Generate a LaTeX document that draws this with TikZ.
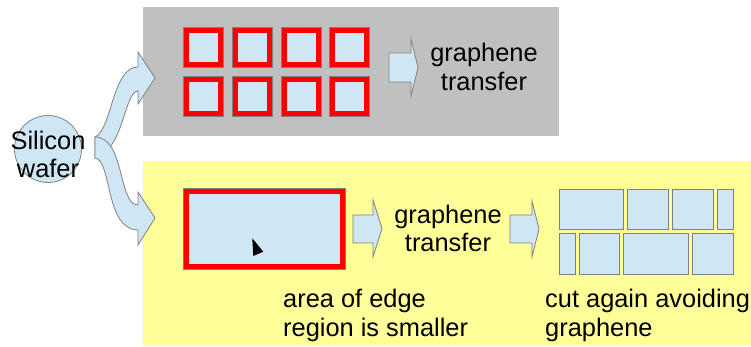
\documentclass[tikz,border=0pt]{standalone}
\usepackage{fontspec}
\setmainfont{Liberation Sans}
\definecolor{lblue}{RGB}{207,231,245}
\definecolor{edgegray}{RGB}{128,128,128}
\definecolor{boxgray}{RGB}{192,192,192}
\definecolor{boxyellow}{RGB}{255,255,153}
\begin{document}
\begin{tikzpicture}[x=1pt,y=-1pt,
  txt/.style={inner sep=0pt, font=\fontsize{25.4}{28.5}\selectfont},
  piece/.style={draw=edgegray, line width=0.9pt, fill=lblue, inner sep=0pt, anchor=north west},
  redsq/.style={piece, path picture={\draw[red,line width=4.8pt]
      ([shift={(3pt,3pt)}]path picture bounding box.south west) rectangle
      ([shift={(-3pt,-3pt)}]path picture bounding box.north east);}},
  blockarrow/.style={draw=edgegray, line width=0.8pt, fill=lblue, line join=miter}
]
\useasboundingbox (0,0) rectangle (751,347);
% background panels
\fill[boxgray] (143,7) rectangle (559,136);
\fill[boxyellow] (143,161) rectangle (751,346);

% silicon wafer
\node[draw=edgegray, line width=0.8pt, fill=lblue, circle, minimum size=67pt, inner sep=0pt] (wafer) at (48,149) {};
\node[txt, anchor=base] (silicon) at (48,150) {Silicon};
\node[txt, anchor=base] (waferlbl) at (48,178) {wafer};

% curved arrows
\draw[blockarrow] (95,158) .. controls (124,150) and (124,92) .. (138,91) -- (138,104) -- (155,78) -- (138,52) -- (138,67) .. controls (112,67) and (112,130) .. (95,137) -- cycle;
\draw[blockarrow] (95,137) .. controls (125,137) and (118,205) .. (138,205) -- (138,192) -- (155,218) -- (138,245) -- (138,230) .. controls (105,230) and (112,160) .. (95,158) -- cycle;

% top row squares
\foreach \i/\x in {1/183,2/232,3/281,4/329}{
  \node[redsq, minimum size=40pt] (ta\i) at (\x,27) {};
  \node[redsq, minimum size=40pt] (tb\i) at (\x,76) {};
}
% top arrow
\draw[blockarrow] (389,53) -- (411,53) -- (411,39) -- (418,67.5) -- (411,96) -- (411,82) -- (389,82) -- cycle;
\node[txt, anchor=base] (gt1) at (484,62) {graphene};
\node[txt, anchor=base] (gt2) at (484,90.5) {transfer};

% bottom big rectangle
\node[redsq, minimum width=162pt, minimum height=81pt] (big) at (183,188) {};
\fill[black] (252.3,238.3) -- (263.3,251.7) -- (253.3,256) -- cycle;

% bottom arrows
\draw[blockarrow] (353,215) -- (373,215) -- (373,200) -- (382,228.5) -- (373,257) -- (373,243) -- (353,243) -- cycle;
\node[txt, anchor=base] (gb1) at (448,223) {graphene};
\node[txt, anchor=base] (gb2) at (448,251.5) {transfer};
\draw[blockarrow] (510,215) -- (532,215) -- (532,201) -- (539,229) -- (532,257) -- (532,243) -- (510,243) -- cycle;

% cut pieces
\node[piece, minimum width=64pt, minimum height=40pt] (p1) at (559,189) {};
\node[piece, minimum width=41pt, minimum height=40pt] (p2) at (627,189) {};
\node[piece, minimum width=41pt, minimum height=40pt] (p3) at (672,189) {};
\node[piece, minimum width=16pt, minimum height=40pt] (p4) at (717,189) {};
\node[piece, minimum width=16pt, minimum height=41pt] (q1) at (559,233) {};
\node[piece, minimum width=40pt, minimum height=41pt] (q2) at (579,233) {};
\node[piece, minimum width=65pt, minimum height=41pt] (q3) at (623,233) {};
\node[piece, minimum width=41pt, minimum height=41pt] (q4) at (692,233) {};

% captions
\node[txt, anchor=base west] (ae1) at (283,307) {area of edge};
\node[txt, anchor=base west] (ae2) at (283,336) {region is smaller};
\node[txt, anchor=base west] (ca1) at (545,307) {cut again avoiding};
\node[txt, anchor=base west] (ca2) at (545,336) {graphene};
\end{tikzpicture}
\end{document}
